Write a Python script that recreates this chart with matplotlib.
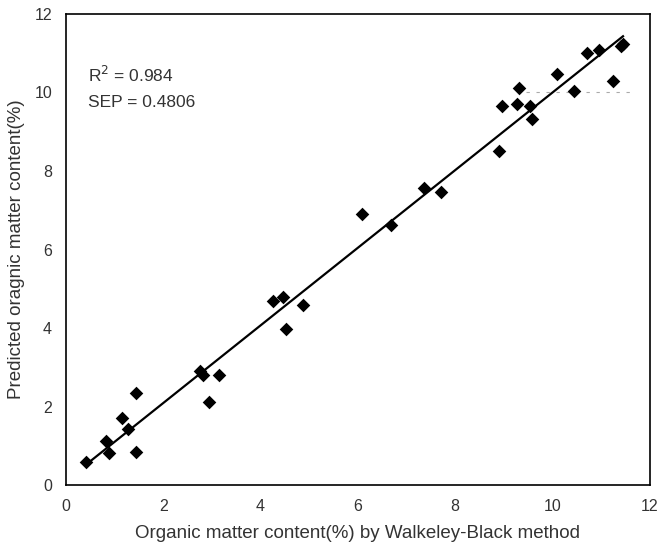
import numpy as np
import matplotlib
matplotlib.use("Agg")
import matplotlib.pyplot as plt

plt.rcParams['font.family'] = ['Liberation Sans', 'DejaVu Sans']

# Reference (Walkley-Black) vs predicted organic matter content (%)
measured = [0.41, 0.82, 0.89, 1.16, 1.28, 1.44, 1.44, 2.75, 2.81, 3.15, 2.94,
            4.26, 4.46, 4.87, 4.52, 6.09, 6.69, 7.35, 7.71,
            8.91, 8.97, 9.27, 9.32, 9.53, 9.57, 10.10, 10.45, 10.72, 10.95,
            11.24, 11.41, 11.45]
predicted = [0.59, 1.12, 0.82, 1.70, 1.42, 2.34, 0.84, 2.90, 2.80, 2.80, 2.11,
             4.69, 4.78, 4.58, 3.97, 6.90, 6.62, 7.56, 7.46,
             8.52, 9.66, 9.71, 10.11, 9.66, 9.32, 10.47, 10.04, 11.01, 11.08,
             10.28, 11.18, 11.22]

ticks = [0, 2, 4, 6, 8, 10, 12]
stats_text = ["R$^2$ = 0.984", "SEP = 0.4806"]

fig = plt.figure(figsize=(6.59, 5.52), dpi=100)
ax = fig.add_axes([0.100, 0.121, 0.886, 0.854])

x = np.array(measured)
y = np.array(predicted)
slope, intercept = np.polyfit(x, y, 1)
xl = np.array([x.min(), x.max()])
ax.plot(xl, slope * xl + intercept, color='black', lw=1.6, zorder=2)

# faint dashed artifact line
ax.plot([9.45, 11.6], [10.0, 10.0], color='#aaaaaa', lw=0.8, ls=(0, (3, 6)), zorder=1)

ax.scatter(x, y, marker='D', s=48, color='black', zorder=3, linewidths=0)

ax.set_xlim(0, 12)
ax.set_ylim(0, 12)
ax.set_xticks(ticks)
ax.set_yticks(ticks)
ax.tick_params(length=0, labelsize=11.5, pad=10, colors='#333333')
for s in ax.spines.values():
    s.set_linewidth(1.2)

ax.text(0.45, 10.45, stats_text[0], fontsize=12.5, va='center', ha='left', color='#333333')
ax.text(0.45, 9.73, stats_text[1], fontsize=12.5, va='center', ha='left', color='#333333')

ax.set_xlabel("Organic matter content(%) by Walkeley-Black method", fontsize=13.5,
              labelpad=8, color='#333333')
ax.set_ylabel("Predicted oragnic matter content(%)", fontsize=13.5, labelpad=7,
              color='#333333')

fig.savefig("out.png", dpi=100)
